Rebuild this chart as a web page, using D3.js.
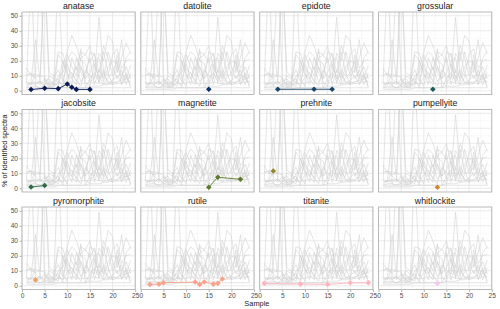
<!DOCTYPE html>
<html><head><meta charset="utf-8">
<script src="https://cdn.jsdelivr.net/npm/d3@7"></script>
<style>body{margin:0;background:#fff}svg{display:block}</style>
</head><body><svg id="chart" width="500" height="309"></svg>
<script>
// ---- data ----
const minerals = ["anatase","datolite","epidote","grossular","jacobsite","magnetite","prehnite","pumpellyite","pyromorphite","rutile","titanite","whitlockite"];
const mineralColors = ["#0a1a55","#10306a","#17466a","#1f5a5c","#2f6b46","#5d7a2c","#958726","#d3872c","#eea05e","#f9a38c","#fcb4bf","#f7c5ef"];
const highlightSamples = [
  [2,5,8,10,11,12,15],
  [15],
  [4,12,16],
  [12],
  [2,5],
  [15,17,22],
  [3],
  [13],
  [3],
  [2,4,5,12,13,14,16,17,18],
  [1,9,15,20,24],
  [13]
];
const highlightValues = [
  [0.8,1.7,1.4,4.5,2.3,0.9,0.9],
  [1.0],
  [1.0,1.0,1.0],
  [1.0],
  [0.8,1.8],
  [0.7,7.3,6.0],
  [11.5],
  [0.7],
  [3.8],
  [0.9,1.1,2.0,2.5,0.9,2.5,1.1,1.6,4.5],
  [1.6,1.1,0.9,2.0,2.0],
  [1.6]
];
const bgSamples = [1,2,3,4,5,6,7,8,9,10,11,12,13,14,15,16,17,18,19,20,21,22,23,24];
const bgSeries = [
  [15,10,9,10,9,4,7,26,25,14,12,7,3,14,10,8,49,12,6,4,5,8,10,3],
  [5,80,3,2,4,6,5,3,15,26,37,30,20,18,6,8,25,20,37,33,12,22,32,25],
  [3,6,34,5,80,12,10,5,20,12,4,22,16,8,26,24,5,14,10,24,28,15,20,21],
  [6,4,12,80,6,8,4,80,8,3,22,14,26,24,19,25,12,30,22,10,14,34,8,17],
  [2,5,4,6,3,2,3,10,12,20,26,23,12,8,12,20,22,6,16,20,18,8,22,26],
  [2,2,2,2,2,2,2,2,2,2,2,2,2,2,2,2,2,2,2,2,2,2,2,2],
  [5,5,5,6,5,5,4,5,5,5,6,5,5,5,5,6,5,5,5,6,5,5,6,6],
  [10,12,8,5,4,10,8,14,6,18,8,4,16,6,3,18,8,12,5,7,10,5,8,6],
  [2,3,3,2,3,4,3,24,20,10,8,16,6,12,22,4,14,8,26,16,8,14,4,12],
  [4,5,6,4,8,2,6,8,2,24,16,10,28,2,8,12,6,26,12,4,24,10,16,8],
  [1,1,1,1,1,1,1,2,2,2,2,2,2,2,3,3,3,4,4,5,6,7,8,9],
  [11,11,11,10,80,3,2,6,4,9,12,6,22,24,30,16,10,4,9,12,20,4,12,2]
];
const xTicks = [0,5,10,15,20,25];
const yTicks = [0,10,20,30,40,50];

// ---- layout ----
const svg = d3.select("#chart");
const font = "'Liberation Sans', Arial, sans-serif";
const ncol = 4;
const panelW = 113.2, panelH = 82.5;
const colX = i => 22 + i * 118.85;
const rowY = j => 12 + j * 97.5;
const x = d3.scaleLinear().domain([0,25]).range([0,panelW]);
const y = d3.scaleLinear().domain([-2.5,52.5]).range([panelH,0]);
const line = d3.line().defined(d => d[1] != null).x(d => x(d[0])).y(d => y(d[1]));

const defs = svg.append("defs");
defs.append("clipPath").attr("id","pclip").append("rect").attr("width",panelW).attr("height",panelH);

minerals.forEach((m, i) => {
  const c = i % ncol, r = Math.floor(i / ncol);
  const g = svg.append("g").attr("transform", `translate(${colX(c)},${rowY(r)})`);
  const minorX = [2.5,7.5,12.5,17.5,22.5], minorY = [5,15,25,35,45];
  g.selectAll(".mx").data(minorX).enter().append("line")
    .attr("x1",d=>x(d)).attr("x2",d=>x(d)).attr("y1",0).attr("y2",panelH)
    .attr("stroke","#f2f2f2").attr("stroke-width",0.5);
  g.selectAll(".my").data(minorY).enter().append("line")
    .attr("y1",d=>y(d)).attr("y2",d=>y(d)).attr("x1",0).attr("x2",panelW)
    .attr("stroke","#f2f2f2").attr("stroke-width",0.5);
  g.selectAll(".gx").data(xTicks).enter().append("line")
    .attr("x1",d=>x(d)).attr("x2",d=>x(d)).attr("y1",0).attr("y2",panelH)
    .attr("stroke","#e6e6e6").attr("stroke-width",0.8);
  g.selectAll(".gy").data(yTicks).enter().append("line")
    .attr("y1",d=>y(d)).attr("y2",d=>y(d)).attr("x1",0).attr("x2",panelW)
    .attr("stroke","#e6e6e6").attr("stroke-width",0.8);

  const pg = g.append("g").attr("clip-path","url(#pclip)");
  bgSeries.forEach(s => {
    pg.append("path").datum(bgSamples.map((sx,k)=>[sx,s[k]]))
      .attr("d", line).attr("fill","none").attr("stroke","#cfcfcf").attr("stroke-width",0.55);
  });
  const hd = highlightSamples[i].map((sx,k)=>[sx,highlightValues[i][k]]);
  pg.append("path").datum(hd).attr("d", line).attr("fill","none")
    .attr("stroke", mineralColors[i]).attr("stroke-width",0.9);
  const dsz = 2.8;
  pg.selectAll(".pt").data(hd).enter().append("path")
    .attr("d", d => { const cx = x(d[0]), cy = y(d[1]);
      return `M${cx},${cy-dsz}L${cx+dsz},${cy}L${cx},${cy+dsz}L${cx-dsz},${cy}Z`; })
    .attr("fill", mineralColors[i]);

  g.append("rect").attr("width",panelW).attr("height",panelH).attr("fill","none")
    .attr("stroke","#b3b3b3").attr("stroke-width",0.9);
  g.append("text").attr("x",panelW/2).attr("y",-3.5).attr("text-anchor","middle")
    .attr("font-family",font).attr("font-size",8.8).attr("fill","#1a1a1a").text(m);

  if (c === 0) {
    const ax = g.append("g").call(d3.axisLeft(y).tickValues(yTicks).tickSize(2.5).tickPadding(1.5));
    ax.select(".domain").remove();
    ax.selectAll("line").attr("stroke","#b3b3b3");
    ax.selectAll("text").attr("font-family",font).attr("font-size",6.6).attr("fill","#4d4d4d");
  }
  if (r === 2) {
    const ax = g.append("g").attr("transform",`translate(0,${panelH})`)
      .call(d3.axisBottom(x).tickValues(xTicks).tickSize(2.5).tickPadding(1));
    ax.select(".domain").remove();
    ax.selectAll("line").attr("stroke","#b3b3b3");
    ax.selectAll("text").attr("font-family",font).attr("font-size",6.6).attr("fill","#4d4d4d");
  }
});

svg.append("text").attr("transform",`translate(7,${rowY(0) + (rowY(2)+panelH-rowY(0))/2}) rotate(-90)`)
  .attr("text-anchor","middle").attr("font-family",font).attr("font-size",7.4).attr("fill","#1a1a1a")
  .text("% of identified spectra");
svg.append("text").attr("x",(colX(0)+colX(3)+panelW)/2).attr("y",306)
  .attr("text-anchor","middle").attr("font-family",font).attr("font-size",7.4).attr("fill","#1a1a1a")
  .text("Sample");
</script></body></html>
